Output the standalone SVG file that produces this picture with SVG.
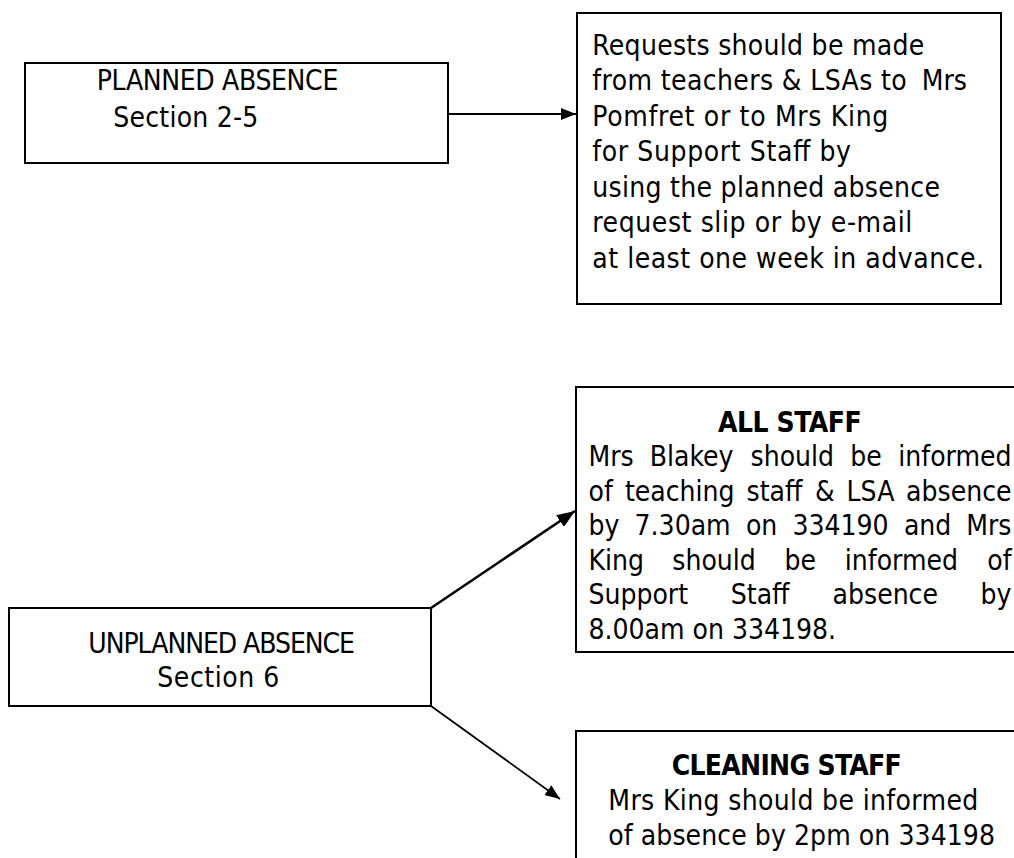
<svg xmlns="http://www.w3.org/2000/svg" width="1014" height="858" viewBox="0 0 1014 858">
  <style>
    .box { fill: #ffffff; stroke: #000000; stroke-width: 2; }
    .t { font-family: "DejaVu Sans Condensed", "DejaVu Sans", sans-serif; font-stretch: condensed; font-size: 28px; fill: #000000; }
    .b { font-weight: bold; }
    .e { text-anchor: end; }
    .conn { stroke: #000000; fill: none; }
  </style>
  <defs>
    <marker id="headS" markerUnits="userSpaceOnUse" markerWidth="15" markerHeight="12" refX="15" refY="6" orient="auto" viewBox="0 0 15 12">
      <path d="M0,0 L15,6 L0,12 z" fill="#000000"/>
    </marker>
    <marker id="headL" markerUnits="userSpaceOnUse" markerWidth="18" markerHeight="14" refX="18" refY="7" orient="auto" viewBox="0 0 18 14">
      <path d="M0,0 L18,7 L0,14 z" fill="#000000"/>
    </marker>
  </defs>
  <rect width="1014" height="858" fill="#ffffff"/>

  <g id="connectors">
    <line class="conn" x1="448" y1="114" x2="576" y2="114" stroke-width="2" marker-end="url(#headS)"/>
    <line class="conn" x1="431" y1="608" x2="575" y2="511" stroke-width="2.5" marker-end="url(#headL)"/>
    <line class="conn" x1="431" y1="706" x2="560" y2="799" stroke-width="1.75" marker-end="url(#headS)"/>
  </g>

  <g id="planned">
    <rect class="box" x="25" y="63" width="423" height="100"/>
    <text class="t" x="96.7" y="90" textLength="241.6" lengthAdjust="spacing">PLANNED ABSENCE</text>
    <text class="t" x="113.3" y="127" textLength="145" lengthAdjust="spacing">Section 2-5</text>
  </g>

  <g id="requests">
    <rect class="box" x="577" y="13" width="424" height="291"/>
    <text class="t" x="592.3" y="54.5" textLength="332" lengthAdjust="spacing">Requests should be made</text>
    <text class="t" x="592.3" y="90" textLength="314.4" lengthAdjust="spacing">from teachers &amp; LSAs to</text>
    <text class="t" x="921.7" y="90">Mrs</text>
    <text class="t" x="592.3" y="125.5" textLength="296" lengthAdjust="spacing">Pomfret or to Mrs King</text>
    <text class="t" x="592.3" y="161" textLength="258.7" lengthAdjust="spacing">for Support Staff by</text>
    <text class="t" x="592.3" y="196.5" textLength="347.7" lengthAdjust="spacing">using the planned absence</text>
    <text class="t" x="592.3" y="232" textLength="320" lengthAdjust="spacing">request slip or by e-mail</text>
    <text class="t" x="592.3" y="267.5" textLength="391.7" lengthAdjust="spacing">at least one week in advance.</text>
  </g>

  <g id="unplanned">
    <rect class="box" x="9" y="608" width="422" height="98"/>
    <text class="t" x="88.3" y="652.5" textLength="266.7" lengthAdjust="spacing">UNPLANNED ABSENCE</text>
    <text class="t" x="157.3" y="687" textLength="122" lengthAdjust="spacing">Section 6</text>
  </g>

  <g id="all-staff">
    <rect class="box" x="576" y="387" width="450" height="265"/>
    <text class="t b" x="718" y="431.5" textLength="143.7" lengthAdjust="spacing">ALL STAFF</text>
    <text class="t" y="466"><tspan x="588.5">Mrs</tspan><tspan x="649.8">Blakey</tspan><tspan x="750.6">should</tspan><tspan x="850.2">be</tspan></text>
    <text class="t e" x="1011.5" y="466">informed</text>
    <text class="t" y="500.5"><tspan x="588.5">of</tspan><tspan x="624.9">teaching</tspan><tspan x="746.6">staff</tspan><tspan x="814.9">&amp;</tspan><tspan x="846.6">LSA</tspan></text>
    <text class="t e" x="1011.5" y="500.5">absence</text>
    <text class="t" y="535"><tspan x="588.5">by</tspan><tspan x="634.6">7.30am</tspan><tspan x="745.9">on</tspan><tspan x="792.5">334190</tspan><tspan x="903.9">and</tspan></text>
    <text class="t e" x="1011.5" y="535">Mrs</text>
    <text class="t" y="569.5"><tspan x="588.5">King</tspan><tspan x="672.3">should</tspan><tspan x="784.5">be</tspan><tspan x="844.8">informed</tspan></text>
    <text class="t e" x="1011.5" y="569.5">of</text>
    <text class="t" y="604"><tspan x="588.5">Support</tspan><tspan x="730.8">Staff</tspan><tspan x="832.6">absence</tspan></text>
    <text class="t e" x="1011.5" y="604">by</text>
    <text class="t" x="588.5" y="638.5">8.00am on 334198.</text>
  </g>

  <g id="cleaning-staff">
    <rect class="box" x="576" y="731" width="450" height="140"/>
    <text class="t b" x="671.7" y="774.5" textLength="230" lengthAdjust="spacing">CLEANING STAFF</text>
    <text class="t" x="608.3" y="809.5" textLength="370" lengthAdjust="spacing">Mrs King should be informed</text>
    <text class="t" x="608.3" y="844.5" textLength="386.7" lengthAdjust="spacing">of absence by 2pm on 334198</text>
  </g>
</svg>
